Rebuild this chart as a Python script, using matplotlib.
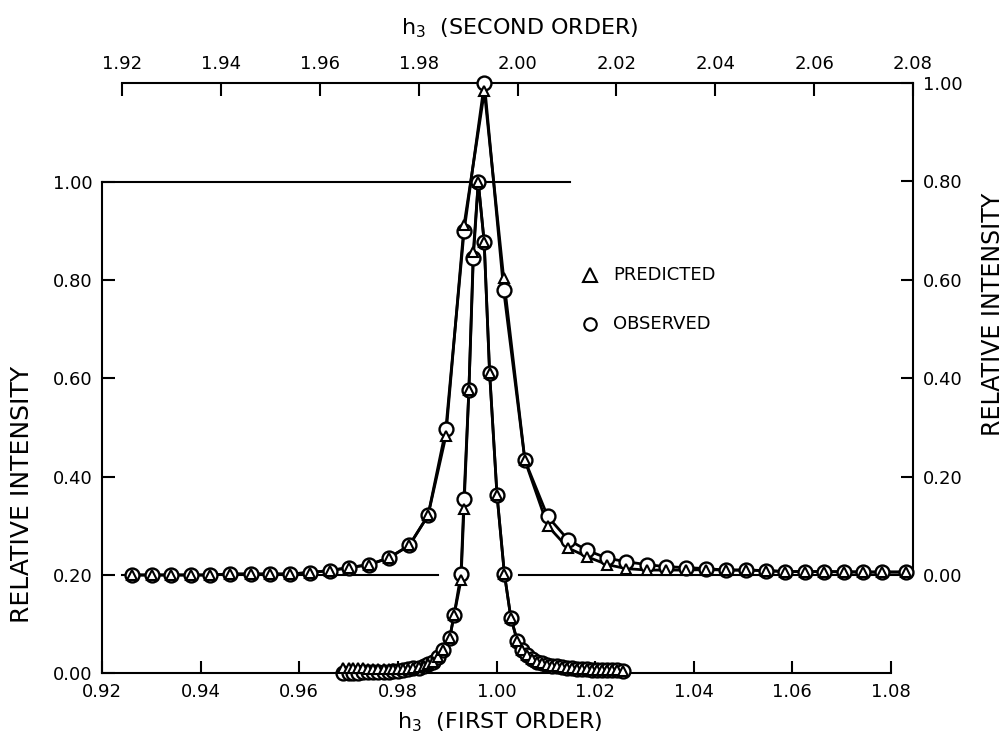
import matplotlib
matplotlib.use('Agg')
import matplotlib.pyplot as plt
from matplotlib.lines import Line2D
from matplotlib.ticker import FormatStrFormatter

plt.rcParams['font.family'] = ['DejaVu Sans']
plt.rcParams['mathtext.fontset'] = 'dejavusans'

# ---------------- data ----------------
# First order (bottom / left axes)
h1 = [0.9688, 0.9700, 0.9710, 0.9720, 0.9730, 0.9740, 0.9750, 0.9760, 0.9771, 0.9781,
      0.9791, 0.9801, 0.9811, 0.9821, 0.9831, 0.9842, 0.9852, 0.9862, 0.9872, 0.9882,
      0.9892, 0.9905, 0.9914, 0.9928, 0.9934, 0.9944, 0.9953, 0.9963, 0.9975, 0.9986,
      1.0001, 1.0016, 1.0029, 1.0042, 1.0051, 1.0061, 1.0072, 1.0082, 1.0092, 1.0102,
      1.0112, 1.0122, 1.0132, 1.0143, 1.0153, 1.0163, 1.0173, 1.0183, 1.0193, 1.0203,
      1.0214, 1.0224, 1.0234, 1.0244, 1.0256]
obs1 = [0.000, 0.001, 0.001, 0.001, 0.002, 0.002, 0.002, 0.002, 0.003, 0.003,
        0.004, 0.005, 0.006, 0.0075, 0.0096, 0.011, 0.014, 0.018, 0.023, 0.033,
        0.047, 0.071, 0.118, 0.202, 0.354, 0.576, 0.845, 1.000, 0.878, 0.612,
        0.363, 0.202, 0.113, 0.066, 0.047, 0.037, 0.029, 0.023, 0.020, 0.017,
        0.015, 0.014, 0.012, 0.011, 0.0095, 0.009, 0.008, 0.0075, 0.007, 0.0068,
        0.0068, 0.006, 0.0055, 0.0052, 0.005]
pred1 = [0.010, 0.010, 0.010, 0.010, 0.010, 0.009, 0.009, 0.009, 0.008, 0.008,
         0.008, 0.008, 0.008, 0.009, 0.010, 0.012, 0.015, 0.018, 0.023, 0.033,
         0.047, 0.071, 0.118, 0.189, 0.335, 0.576, 0.858, 1.000, 0.878, 0.612,
         0.363, 0.202, 0.113, 0.066, 0.047, 0.037, 0.029, 0.023, 0.020, 0.017,
         0.015, 0.014, 0.012, 0.011, 0.0095, 0.009, 0.008, 0.0075, 0.007, 0.0068,
         0.0068, 0.006, 0.0055, 0.0052, 0.005]

# Second order (top / right axes)
h2 = [1.9221, 1.9260, 1.9299, 1.9339, 1.9378, 1.9418, 1.9461, 1.9500, 1.9539, 1.9580,
      1.9620, 1.9659, 1.9700, 1.9740, 1.9781, 1.9819, 1.9855, 1.9892, 1.9933, 1.9972,
      2.0015, 2.0061, 2.0102, 2.0141, 2.0182, 2.0220, 2.0262, 2.0301, 2.0341, 2.0381,
      2.0422, 2.0462, 2.0502, 2.0541, 2.0581, 2.0619, 2.0660, 2.0699, 2.0738, 2.0785]
obs2 = [0.000, 0.000, 0.000, 0.000, 0.000, 0.002, 0.002, 0.002, 0.002, 0.005,
        0.009, 0.015, 0.021, 0.035, 0.060, 0.121, 0.296, 0.699, 1.000, 0.579,
        0.233, 0.119, 0.072, 0.050, 0.034, 0.027, 0.021, 0.017, 0.015, 0.013,
        0.010, 0.010, 0.009, 0.007, 0.007, 0.007, 0.0065, 0.006, 0.006, 0.006]
pred2 = [0.000, 0.000, 0.000, 0.000, 0.000, 0.002, 0.002, 0.002, 0.002, 0.005,
         0.009, 0.015, 0.021, 0.035, 0.060, 0.121, 0.282, 0.712, 0.983, 0.604,
         0.233, 0.100, 0.055, 0.037, 0.021, 0.013, 0.010, 0.010, 0.010, 0.011,
         0.010, 0.010, 0.009, 0.007, 0.007, 0.007, 0.0065, 0.006, 0.006, 0.006]

x1_ticks = [0.92, 0.94, 0.96, 0.98, 1.00, 1.02, 1.04, 1.06, 1.08]
x2_ticks = [1.92, 1.94, 1.96, 1.98, 2.00, 2.02, 2.04, 2.06, 2.08]
y_ticks = [0.0, 0.2, 0.4, 0.6, 0.8, 1.0]

# reference lines drawn in the original figure
top_line_first = (0.92, 1.015)           # y = 1.00 on first-order axes
base_segments_second = [(1.92, 1.984), (2.0003, 2.08)]   # y = 0 on second-order axes

# ---------------- figure ----------------
W, H = 1007, 736
fig = plt.figure(figsize=(W / 100, H / 100), dpi=100)


def box(x0, y0, x1, y1):
    return [x0 / W, 1 - y1 / H, (x1 - x0) / W, (y1 - y0) / H]


ax = fig.add_axes(box(102, 182, 891, 673))
ax2 = fig.add_axes(box(122, 83, 913, 575))
ax2.patch.set_visible(False)

LW = 2.0
mk_o = dict(marker='o', ms=10, mfc='white', mec='black', mew=1.7, ls='none', clip_on=False)
mk_t = dict(marker='^', ms=7.5, mfc='white', mec='black', mew=1.5, ls='none', clip_on=False)

# first order
ax.plot(h1, pred1, color='black', lw=LW, clip_on=False, zorder=2)
ax.plot(h1, obs1, color='black', lw=LW, clip_on=False, zorder=2)
ax.plot(h1, obs1, zorder=3, **mk_o)
ax.plot(h1, pred1, zorder=4, **mk_t)
ax.plot(top_line_first, [1.0, 1.0], color='black', lw=1.5, clip_on=False, zorder=1)

# second order
ax2.plot(h2, pred2, color='black', lw=LW, clip_on=False, zorder=2)
ax2.plot(h2, obs2, color='black', lw=LW, clip_on=False, zorder=2)
ax2.plot(h2, obs2, zorder=3, **mk_o)
ax2.plot(h2, pred2, zorder=4, **mk_t)
for a, b in base_segments_second:
    ax2.plot([a, b], [0, 0], color='black', lw=1.5, clip_on=False, zorder=1)

# axes styling
ax.set_xlim(0.92, 1.08)
ax.set_ylim(0.0, 1.0)
ax2.set_xlim(1.92, 2.08)
ax2.set_ylim(0.0, 1.0)

for s in ['top', 'right']:
    ax.spines[s].set_visible(False)
for s in ['bottom', 'left']:
    ax2.spines[s].set_visible(False)
for a in (ax, ax2):
    for s in a.spines.values():
        s.set_linewidth(1.5)

ax.set_xticks(x1_ticks)
ax.set_yticks(y_ticks)
ax.xaxis.set_major_formatter(FormatStrFormatter('%.2f'))
ax.yaxis.set_major_formatter(FormatStrFormatter('%.2f'))
ax.tick_params(direction='in', length=9, width=1.5, labelsize=13, pad=7)

ax2.xaxis.tick_top()
ax2.yaxis.tick_right()
ax2.set_xticks(x2_ticks)
ax2.set_yticks(y_ticks)
ax2.xaxis.set_major_formatter(FormatStrFormatter('%.2f'))
ax2.yaxis.set_major_formatter(FormatStrFormatter('%.2f'))
ax2.tick_params(direction='in', length=9, width=1.5, labelsize=13, pad=7)

# labels
fig.text(22 / W, 1 - 494 / H, 'RELATIVE INTENSITY', rotation=90, fontsize=18,
         ha='center', va='center')
fig.text(993 / W, 1 - 314 / H, 'RELATIVE INTENSITY', rotation=90, fontsize=17,
         ha='center', va='center')
fig.text(520 / W, 1 - 28 / H, r'h$_3$  (SECOND ORDER)', fontsize=16,
         ha='center', va='center')
fig.text(500 / W, 1 - 722 / H, r'h$_3$  (FIRST ORDER)', fontsize=16,
         ha='center', va='center')

# legend
fig.add_artist(Line2D([590 / W], [1 - 275 / H], transform=fig.transFigure,
                      marker='^', ms=10, mfc='white', mec='black', mew=1.5, ls='none'))
fig.add_artist(Line2D([590 / W], [1 - 324 / H], transform=fig.transFigure,
                      marker='o', ms=9, mfc='white', mec='black', mew=1.5, ls='none'))
fig.text(613 / W, 1 - 275 / H, 'PREDICTED', fontsize=13, ha='left', va='center')
fig.text(613 / W, 1 - 324 / H, 'OBSERVED', fontsize=13, ha='left', va='center')

fig.savefig('out.png', dpi=100, facecolor='white')
